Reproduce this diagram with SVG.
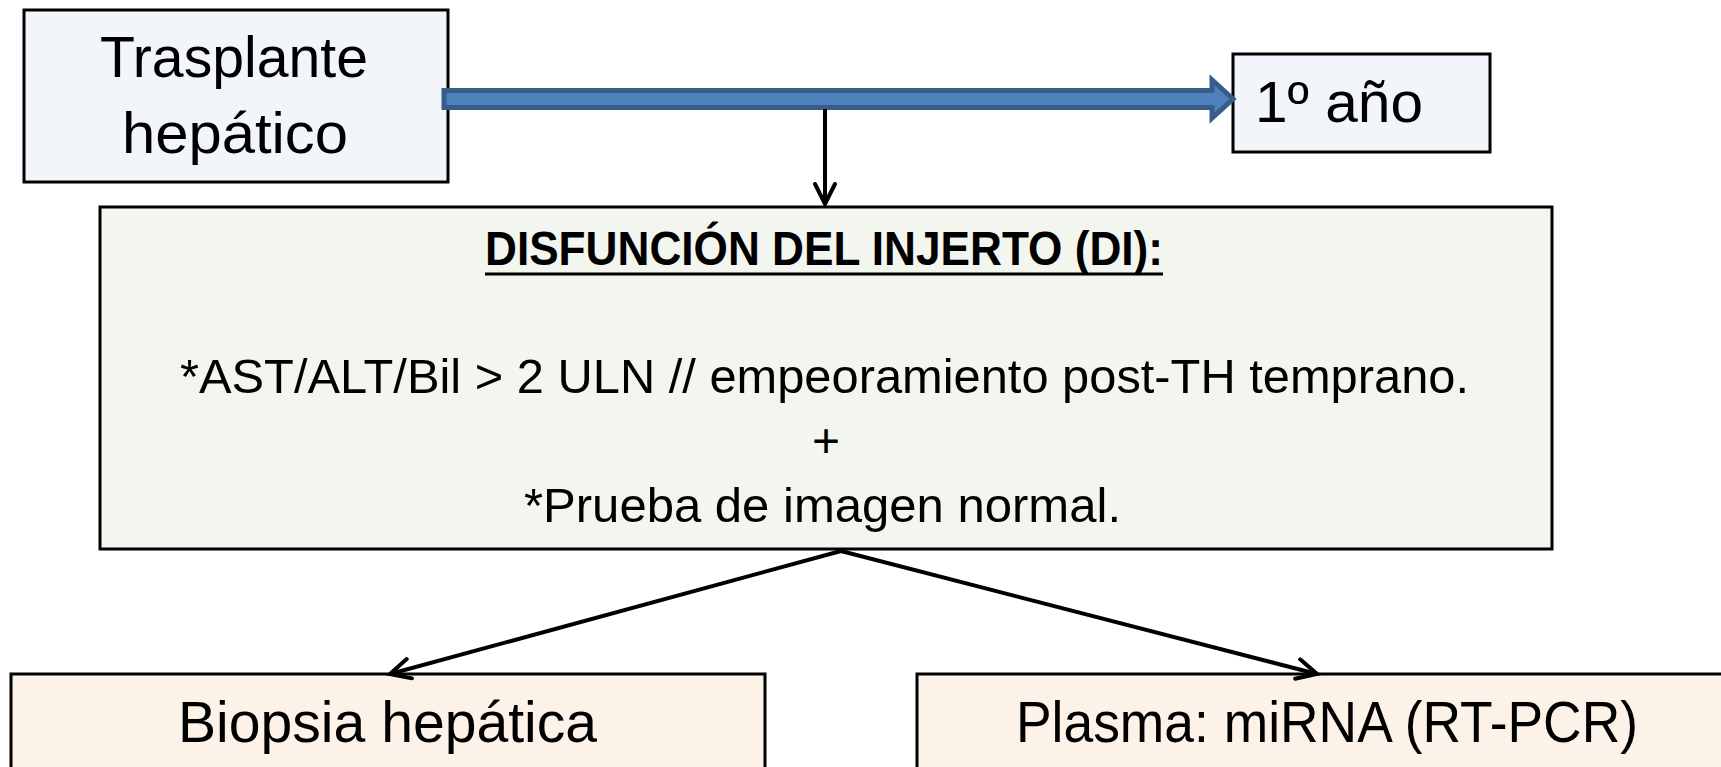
<svg xmlns="http://www.w3.org/2000/svg" width="1721" height="767" viewBox="0 0 1721 767">
<defs>
<style>
.box{stroke:#000;stroke-width:3}
.t{font-family:"Liberation Sans",Arial,sans-serif;fill:#000}
.big{font-size:57px}
.mid{font-size:48px}
.conn{stroke:#000;stroke-width:4;fill:none}
</style>
<marker id="arr" markerUnits="userSpaceOnUse" markerWidth="26" markerHeight="26" refX="22" refY="12" orient="auto" viewBox="0 0 26 26">
<path d="M2,2 L22,12 L2,22" fill="none" stroke="#000" stroke-width="4" stroke-linecap="round" stroke-linejoin="miter"/>
</marker>
</defs>
<rect width="1721" height="767" fill="#fff"/>
<g id="trasplante">
<rect class="box" x="24" y="10" width="424" height="172" fill="#F2F5FA"/>
<text class="t big" x="100" y="77" textLength="268" lengthAdjust="spacingAndGlyphs">Trasplante</text>
<text class="t big" x="122" y="153" textLength="226" lengthAdjust="spacingAndGlyphs">hepático</text>
</g>
<g id="anio">
<rect class="box" x="1233" y="54" width="257" height="98" fill="#F2F5FA"/>
<text class="t big" x="1255" y="122" textLength="168" lengthAdjust="spacingAndGlyphs">1º año</text>
</g>
<g id="timeline">
<polygon points="444,90.5 1212,90.5 1212,80 1233,99 1212,118 1212,107.5 444,107.5" fill="#4F81BD" stroke="#385D8A" stroke-width="5" stroke-linejoin="miter"/>
</g>
<g id="disfuncion">
<rect class="box" x="100" y="207" width="1452" height="342" fill="#F3F6EE"/>
<text class="t mid" x="485" y="265" font-weight="bold" textLength="678" lengthAdjust="spacingAndGlyphs">DISFUNCIÓN DEL INJERTO (DI):</text>
<rect x="485" y="272.5" width="678" height="3" fill="#000"/>
<text class="t mid" x="180" y="393" textLength="1289" lengthAdjust="spacingAndGlyphs">*AST/ALT/Bil &gt; 2 ULN // empeoramiento post-TH temprano.</text>
<text class="t mid" x="826" y="457" text-anchor="middle">+</text>
<text class="t mid" x="524" y="522" textLength="597" lengthAdjust="spacingAndGlyphs">*Prueba de imagen normal.</text>
</g>
<g id="biopsia">
<rect class="box" x="11" y="674" width="754" height="120" fill="#FCF2E8"/>
<text class="t big" x="178" y="742" textLength="419" lengthAdjust="spacingAndGlyphs">Biopsia hepática</text>
</g>
<g id="plasma">
<rect class="box" x="917" y="674" width="830" height="120" fill="#FCF2E8"/>
<text class="t big" x="1016" y="742" textLength="622" lengthAdjust="spacingAndGlyphs">Plasma:  miRNA (RT-PCR)</text>
</g>
<g id="connectors">
<line class="conn" x1="825" y1="109" x2="825" y2="204" marker-end="url(#arr)"/>
<line class="conn" x1="841" y1="551" x2="390" y2="674" marker-end="url(#arr)"/>
<line class="conn" x1="841" y1="551" x2="1317" y2="674" marker-end="url(#arr)"/>
</g>
</svg>
